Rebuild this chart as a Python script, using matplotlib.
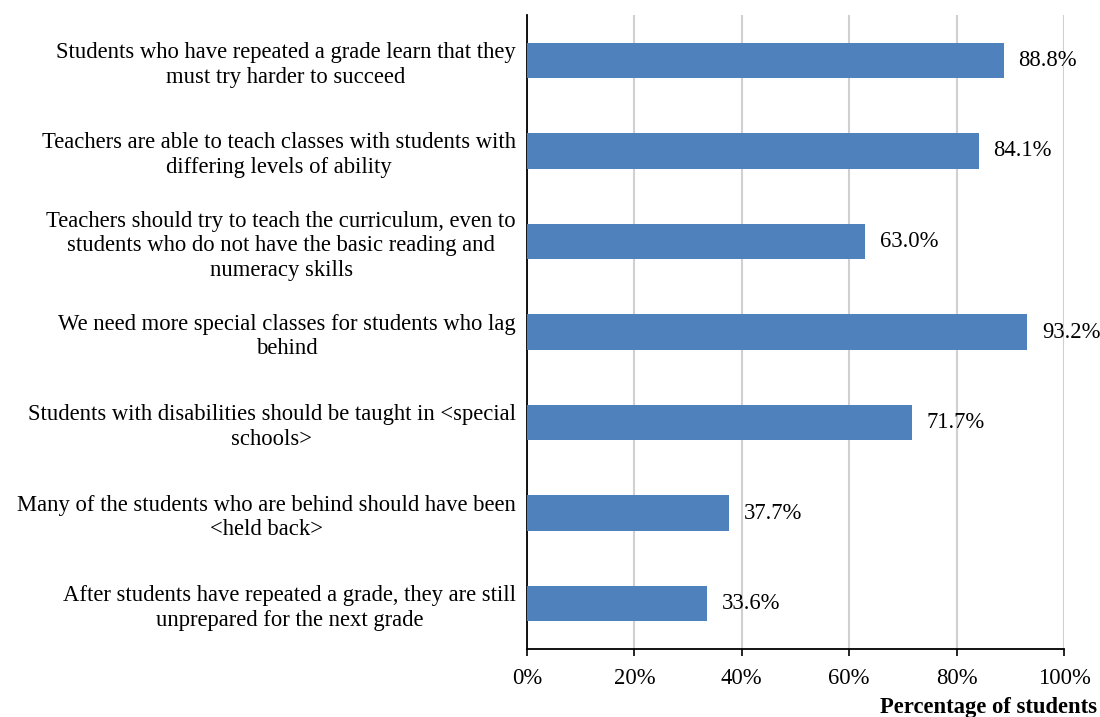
import matplotlib
matplotlib.use("Agg")
import matplotlib.pyplot as plt

categories = [
    "Students who have repeated a grade learn that they\nmust try harder to succeed",
    "Teachers are able to teach classes with students with\ndiffering levels of ability",
    "Teachers should try to teach the curriculum, even to\nstudents who do not have the basic reading and\nnumeracy skills",
    "We need more special classes for students who lag\nbehind",
    "Students with disabilities should be taught in <special\nschools>",
    "Many of the students who are behind should have been\n<held back>",
    "After students have repeated a grade, they are still\nunprepared for the next grade",
]
values = [88.8, 84.1, 63.0, 93.2, 71.7, 37.7, 33.6]
xticks = [0, 20, 40, 60, 80, 100]
xtick_labels = ["0%", "20%", "40%", "60%", "80%", "100%"]

plt.rcParams['font.family'] = ['Liberation Serif', 'DejaVu Serif']
FS = 16.3
fig = plt.figure(figsize=(11, 7.17), dpi=100)
ax = fig.add_axes([527/1100, 1-649/717, (1064-527)/1100, (649-15)/717])

ypos = list(range(len(categories)))
ax.barh(ypos, values, height=0.39, color="#4F81BD", zorder=3)
ax.set_ylim(len(categories)-0.5, -0.5)
ax.set_xlim(0, 100)
ax.set_yticks(ypos)
ax.set_yticklabels(categories, fontsize=FS, multialignment='center', linespacing=1.24)
ax.tick_params(axis='y', length=0, pad=8)
ax.set_xticks(xticks)
ax.set_xticklabels(xtick_labels, fontsize=FS)
ax.tick_params(axis='x', length=5, width=1.2, direction='out', pad=9)
ax.grid(axis='x', color="#D0D0D0", linewidth=1.5, zorder=0)
for s in ['top', 'right']:
    ax.spines[s].set_visible(False)
ax.spines['left'].set_linewidth(1.3)
ax.spines['bottom'].set_linewidth(1.3)

for y, v in zip(ypos, values):
    ax.annotate(f"{v:.1f}%", xy=(v, y), xytext=(10.5, 0), textcoords='offset points',
                ha='left', va='center', fontsize=FS, zorder=4)

fig.text(1097/1100, 1-708/717, "Percentage of students", ha='right', va='center',
         fontsize=FS, fontweight='bold')

fig.savefig("out.png", dpi=100)
